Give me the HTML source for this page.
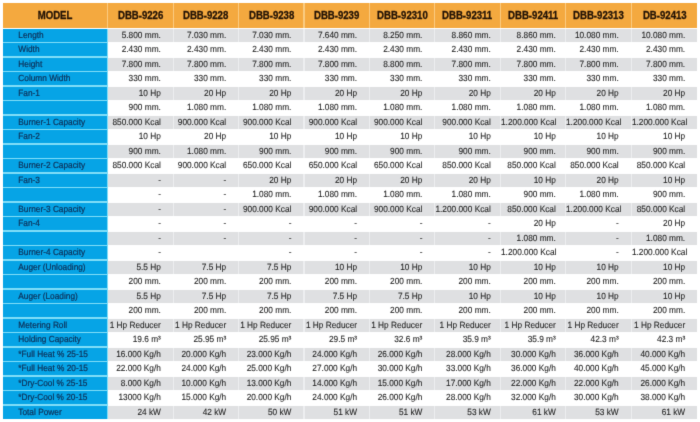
<!DOCTYPE html><html><head><meta charset="utf-8"><style>
html,body{margin:0;padding:0;background:#fff;width:700px;height:422px;overflow:hidden;position:relative}
div{position:absolute;box-sizing:border-box;white-space:nowrap;font-family:"Liberation Sans",sans-serif}
.h{background:#F4A93F;color:#241406;font-weight:bold;font-size:10.0px;text-align:center}
.h span{display:inline-block;transform:translateY(1.0px) scaleX(0.96);transform-origin:50% 50%}
.l{background:#06A4E6;color:#0E3159;font-size:8.3px;padding-left:15.3px}
.d{color:#262626;font-size:8.3px;text-align:right;padding-right:11.5px}
.l span,.d span{display:inline-block;transform:translateY(-0.5px) scaleY(1.08);text-rendering:geometricPrecision}
.g{background:#DFE0E2}
.h span{-webkit-text-stroke:0.3px currentColor}
.d span{-webkit-text-stroke:0.1px currentColor}
.l span{-webkit-text-stroke:0.2px currentColor}
#w{position:absolute;left:0;top:0;width:700px;height:422px;filter:url(#f)}
</style></head><body>
<svg width="0" height="0" style="position:absolute"><filter id="f" x="0" y="0" width="100%" height="100%" color-interpolation-filters="sRGB"><feConvolveMatrix order="3" kernelMatrix="0.0100 0.0800 0.0100 0.0800 0.6400 0.0800 0.0100 0.0800 0.0100" edgeMode="duplicate"/></filter></svg>
<div id="w">
<div style="left:3.00px;top:28.70px;width:105.00px;height:389.90px;background:#80DEF8"></div>
<div style="left:3.00px;top:3.00px;width:694.20px;height:24.50px;background:#FACB80"></div>
<div class="h" style="left:3.00px;top:3.00px;width:103.80px;height:24.50px;line-height:24.50px"><span>MODEL</span></div>
<div class="h" style="left:108.00px;top:3.00px;width:64.70px;height:24.50px;line-height:24.50px"><span>DBB-9226</span></div>
<div class="h" style="left:173.90px;top:3.00px;width:64.00px;height:24.50px;line-height:24.50px"><span>DBB-9228</span></div>
<div class="h" style="left:239.10px;top:3.00px;width:64.20px;height:24.50px;line-height:24.50px"><span>DBB-9238</span></div>
<div class="h" style="left:304.50px;top:3.00px;width:64.40px;height:24.50px;line-height:24.50px"><span>DBB-9239</span></div>
<div class="h" style="left:370.10px;top:3.00px;width:63.80px;height:24.50px;line-height:24.50px"><span>DBB-92310</span></div>
<div class="h" style="left:435.10px;top:3.00px;width:64.70px;height:24.50px;line-height:24.50px"><span>DBB-92311</span></div>
<div class="h" style="left:501.00px;top:3.00px;width:63.80px;height:24.50px;line-height:24.50px"><span>DBB-92411</span></div>
<div class="h" style="left:566.00px;top:3.00px;width:64.70px;height:24.50px;line-height:24.50px"><span>DBB-92313</span></div>
<div class="h" style="left:631.90px;top:3.00px;width:65.30px;height:24.50px;line-height:24.50px"><span>DB-92413</span></div>
<div class="l" style="left:3.00px;top:28.70px;width:103.80px;height:13.30px;line-height:13.30px"><span>Length</span></div>
<div style="left:108.00px;top:28.70px;width:589.20px;height:13.30px;background:#EDEEF0"></div>
<div class="d g" style="left:108.00px;top:28.70px;width:64.70px;height:13.30px;line-height:13.30px;padding-right:11.80px"><span>5.800 mm.</span></div>
<div class="d g" style="left:173.90px;top:28.70px;width:64.00px;height:13.30px;line-height:13.30px;padding-right:11.70px"><span>7.030 mm.</span></div>
<div class="d g" style="left:239.10px;top:28.70px;width:64.20px;height:13.30px;line-height:13.30px;padding-right:11.90px"><span>7.030 mm.</span></div>
<div class="d g" style="left:304.50px;top:28.70px;width:64.40px;height:13.30px;line-height:13.30px;padding-right:11.80px"><span>7.640 mm.</span></div>
<div class="d g" style="left:370.10px;top:28.70px;width:63.80px;height:13.30px;line-height:13.30px;padding-right:11.50px"><span>8.250 mm.</span></div>
<div class="d g" style="left:435.10px;top:28.70px;width:64.70px;height:13.30px;line-height:13.30px;padding-right:9.00px"><span>8.860 mm.</span></div>
<div class="d g" style="left:501.00px;top:28.70px;width:63.80px;height:13.30px;line-height:13.30px;padding-right:9.00px"><span>8.860 mm.</span></div>
<div class="d g" style="left:566.00px;top:28.70px;width:64.70px;height:13.30px;line-height:13.30px;padding-right:12.00px"><span>10.080 mm.</span></div>
<div class="d g" style="left:631.90px;top:28.70px;width:65.30px;height:13.30px;line-height:13.30px;padding-right:12.00px"><span>10.080 mm.</span></div>
<div class="l" style="left:3.00px;top:43.20px;width:103.80px;height:13.30px;line-height:13.30px"><span>Width</span></div>
<div class="d" style="left:108.00px;top:43.20px;width:64.70px;height:13.30px;line-height:13.30px;padding-right:11.80px"><span>2.430 mm.</span></div>
<div class="d" style="left:173.90px;top:43.20px;width:64.00px;height:13.30px;line-height:13.30px;padding-right:11.70px"><span>2.430 mm.</span></div>
<div class="d" style="left:239.10px;top:43.20px;width:64.20px;height:13.30px;line-height:13.30px;padding-right:11.90px"><span>2.430 mm.</span></div>
<div class="d" style="left:304.50px;top:43.20px;width:64.40px;height:13.30px;line-height:13.30px;padding-right:11.80px"><span>2.430 mm.</span></div>
<div class="d" style="left:370.10px;top:43.20px;width:63.80px;height:13.30px;line-height:13.30px;padding-right:11.50px"><span>2.430 mm.</span></div>
<div class="d" style="left:435.10px;top:43.20px;width:64.70px;height:13.30px;line-height:13.30px;padding-right:9.00px"><span>2.430 mm.</span></div>
<div class="d" style="left:501.00px;top:43.20px;width:63.80px;height:13.30px;line-height:13.30px;padding-right:9.00px"><span>2.430 mm.</span></div>
<div class="d" style="left:566.00px;top:43.20px;width:64.70px;height:13.30px;line-height:13.30px;padding-right:12.00px"><span>2.430 mm.</span></div>
<div class="d" style="left:631.90px;top:43.20px;width:65.30px;height:13.30px;line-height:13.30px;padding-right:12.00px"><span>2.430 mm.</span></div>
<div class="l" style="left:3.00px;top:57.70px;width:103.80px;height:13.30px;line-height:13.30px"><span>Height</span></div>
<div style="left:108.00px;top:57.70px;width:589.20px;height:13.30px;background:#EDEEF0"></div>
<div class="d g" style="left:108.00px;top:57.70px;width:64.70px;height:13.30px;line-height:13.30px;padding-right:11.80px"><span>7.800 mm.</span></div>
<div class="d g" style="left:173.90px;top:57.70px;width:64.00px;height:13.30px;line-height:13.30px;padding-right:11.70px"><span>7.800 mm.</span></div>
<div class="d g" style="left:239.10px;top:57.70px;width:64.20px;height:13.30px;line-height:13.30px;padding-right:11.90px"><span>7.800 mm.</span></div>
<div class="d g" style="left:304.50px;top:57.70px;width:64.40px;height:13.30px;line-height:13.30px;padding-right:11.80px"><span>7.800 mm.</span></div>
<div class="d g" style="left:370.10px;top:57.70px;width:63.80px;height:13.30px;line-height:13.30px;padding-right:11.50px"><span>8.800 mm.</span></div>
<div class="d g" style="left:435.10px;top:57.70px;width:64.70px;height:13.30px;line-height:13.30px;padding-right:9.00px"><span>7.800 mm.</span></div>
<div class="d g" style="left:501.00px;top:57.70px;width:63.80px;height:13.30px;line-height:13.30px;padding-right:9.00px"><span>7.800 mm.</span></div>
<div class="d g" style="left:566.00px;top:57.70px;width:64.70px;height:13.30px;line-height:13.30px;padding-right:12.00px"><span>7.800 mm.</span></div>
<div class="d g" style="left:631.90px;top:57.70px;width:65.30px;height:13.30px;line-height:13.30px;padding-right:12.00px"><span>7.800 mm.</span></div>
<div class="l" style="left:3.00px;top:72.20px;width:103.80px;height:13.30px;line-height:13.30px"><span>Column Width</span></div>
<div class="d" style="left:108.00px;top:72.20px;width:64.70px;height:13.30px;line-height:13.30px;padding-right:11.80px"><span>330 mm.</span></div>
<div class="d" style="left:173.90px;top:72.20px;width:64.00px;height:13.30px;line-height:13.30px;padding-right:11.70px"><span>330 mm.</span></div>
<div class="d" style="left:239.10px;top:72.20px;width:64.20px;height:13.30px;line-height:13.30px;padding-right:11.90px"><span>330 mm.</span></div>
<div class="d" style="left:304.50px;top:72.20px;width:64.40px;height:13.30px;line-height:13.30px;padding-right:11.80px"><span>330 mm.</span></div>
<div class="d" style="left:370.10px;top:72.20px;width:63.80px;height:13.30px;line-height:13.30px;padding-right:11.50px"><span>330 mm.</span></div>
<div class="d" style="left:435.10px;top:72.20px;width:64.70px;height:13.30px;line-height:13.30px;padding-right:9.00px"><span>330 mm.</span></div>
<div class="d" style="left:501.00px;top:72.20px;width:63.80px;height:13.30px;line-height:13.30px;padding-right:9.00px"><span>330 mm.</span></div>
<div class="d" style="left:566.00px;top:72.20px;width:64.70px;height:13.30px;line-height:13.30px;padding-right:12.00px"><span>330 mm.</span></div>
<div class="d" style="left:631.90px;top:72.20px;width:65.30px;height:13.30px;line-height:13.30px;padding-right:12.00px"><span>330 mm.</span></div>
<div class="l" style="left:3.00px;top:86.70px;width:103.80px;height:13.30px;line-height:13.30px"><span>Fan-1</span></div>
<div style="left:108.00px;top:86.70px;width:589.20px;height:13.30px;background:#EDEEF0"></div>
<div class="d g" style="left:108.00px;top:86.70px;width:64.70px;height:13.30px;line-height:13.30px;padding-right:11.80px"><span>10 Hp</span></div>
<div class="d g" style="left:173.90px;top:86.70px;width:64.00px;height:13.30px;line-height:13.30px;padding-right:11.70px"><span>20 Hp</span></div>
<div class="d g" style="left:239.10px;top:86.70px;width:64.20px;height:13.30px;line-height:13.30px;padding-right:11.90px"><span>20 Hp</span></div>
<div class="d g" style="left:304.50px;top:86.70px;width:64.40px;height:13.30px;line-height:13.30px;padding-right:11.80px"><span>20 Hp</span></div>
<div class="d g" style="left:370.10px;top:86.70px;width:63.80px;height:13.30px;line-height:13.30px;padding-right:11.50px"><span>20 Hp</span></div>
<div class="d g" style="left:435.10px;top:86.70px;width:64.70px;height:13.30px;line-height:13.30px;padding-right:9.00px"><span>20 Hp</span></div>
<div class="d g" style="left:501.00px;top:86.70px;width:63.80px;height:13.30px;line-height:13.30px;padding-right:9.00px"><span>20 Hp</span></div>
<div class="d g" style="left:566.00px;top:86.70px;width:64.70px;height:13.30px;line-height:13.30px;padding-right:12.00px"><span>20 Hp</span></div>
<div class="d g" style="left:631.90px;top:86.70px;width:65.30px;height:13.30px;line-height:13.30px;padding-right:12.00px"><span>20 Hp</span></div>
<div class="l" style="left:3.00px;top:101.20px;width:103.80px;height:13.30px;line-height:13.30px"><span></span></div>
<div class="d" style="left:108.00px;top:101.20px;width:64.70px;height:13.30px;line-height:13.30px;padding-right:11.80px"><span>900 mm.</span></div>
<div class="d" style="left:173.90px;top:101.20px;width:64.00px;height:13.30px;line-height:13.30px;padding-right:11.70px"><span>1.080 mm.</span></div>
<div class="d" style="left:239.10px;top:101.20px;width:64.20px;height:13.30px;line-height:13.30px;padding-right:11.90px"><span>1.080 mm.</span></div>
<div class="d" style="left:304.50px;top:101.20px;width:64.40px;height:13.30px;line-height:13.30px;padding-right:11.80px"><span>1.080 mm.</span></div>
<div class="d" style="left:370.10px;top:101.20px;width:63.80px;height:13.30px;line-height:13.30px;padding-right:11.50px"><span>1.080 mm.</span></div>
<div class="d" style="left:435.10px;top:101.20px;width:64.70px;height:13.30px;line-height:13.30px;padding-right:9.00px"><span>1.080 mm.</span></div>
<div class="d" style="left:501.00px;top:101.20px;width:63.80px;height:13.30px;line-height:13.30px;padding-right:9.00px"><span>1.080 mm.</span></div>
<div class="d" style="left:566.00px;top:101.20px;width:64.70px;height:13.30px;line-height:13.30px;padding-right:12.00px"><span>1.080 mm.</span></div>
<div class="d" style="left:631.90px;top:101.20px;width:65.30px;height:13.30px;line-height:13.30px;padding-right:12.00px"><span>1.080 mm.</span></div>
<div class="l" style="left:3.00px;top:115.70px;width:103.80px;height:13.30px;line-height:13.30px"><span>Burner-1 Capacity</span></div>
<div style="left:108.00px;top:115.70px;width:589.20px;height:13.30px;background:#EDEEF0"></div>
<div class="d g" style="left:108.00px;top:115.70px;width:64.70px;height:13.30px;line-height:13.30px;padding-right:11.80px"><span>850.000 Kcal</span></div>
<div class="d g" style="left:173.90px;top:115.70px;width:64.00px;height:13.30px;line-height:13.30px;padding-right:11.70px"><span>900.000 Kcal</span></div>
<div class="d g" style="left:239.10px;top:115.70px;width:64.20px;height:13.30px;line-height:13.30px;padding-right:11.90px"><span>900.000 Kcal</span></div>
<div class="d g" style="left:304.50px;top:115.70px;width:64.40px;height:13.30px;line-height:13.30px;padding-right:11.80px"><span>900.000 Kcal</span></div>
<div class="d g" style="left:370.10px;top:115.70px;width:63.80px;height:13.30px;line-height:13.30px;padding-right:11.50px"><span>900.000 Kcal</span></div>
<div class="d g" style="left:435.10px;top:115.70px;width:64.70px;height:13.30px;line-height:13.30px;padding-right:9.00px"><span>900.000 Kcal</span></div>
<div class="d g" style="left:501.00px;top:115.70px;width:63.80px;height:13.30px;line-height:13.30px;padding-right:9.00px"><span>1.200.000 Kcal</span></div>
<div class="d g" style="left:566.00px;top:115.70px;width:64.70px;height:13.30px;line-height:13.30px;padding-right:12.00px"><span>1.200.000 Kcal</span></div>
<div class="d g" style="left:631.90px;top:115.70px;width:65.30px;height:13.30px;line-height:13.30px;padding-right:12.00px"><span>1.200.000 Kcal</span></div>
<div class="l" style="left:3.00px;top:130.20px;width:103.80px;height:13.30px;line-height:13.30px"><span>Fan-2</span></div>
<div class="d" style="left:108.00px;top:130.20px;width:64.70px;height:13.30px;line-height:13.30px;padding-right:11.80px"><span>10 Hp</span></div>
<div class="d" style="left:173.90px;top:130.20px;width:64.00px;height:13.30px;line-height:13.30px;padding-right:11.70px"><span>20 Hp</span></div>
<div class="d" style="left:239.10px;top:130.20px;width:64.20px;height:13.30px;line-height:13.30px;padding-right:11.90px"><span>10 Hp</span></div>
<div class="d" style="left:304.50px;top:130.20px;width:64.40px;height:13.30px;line-height:13.30px;padding-right:11.80px"><span>10 Hp</span></div>
<div class="d" style="left:370.10px;top:130.20px;width:63.80px;height:13.30px;line-height:13.30px;padding-right:11.50px"><span>10 Hp</span></div>
<div class="d" style="left:435.10px;top:130.20px;width:64.70px;height:13.30px;line-height:13.30px;padding-right:9.00px"><span>10 Hp</span></div>
<div class="d" style="left:501.00px;top:130.20px;width:63.80px;height:13.30px;line-height:13.30px;padding-right:9.00px"><span>10 Hp</span></div>
<div class="d" style="left:566.00px;top:130.20px;width:64.70px;height:13.30px;line-height:13.30px;padding-right:12.00px"><span>10 Hp</span></div>
<div class="d" style="left:631.90px;top:130.20px;width:65.30px;height:13.30px;line-height:13.30px;padding-right:12.00px"><span>10 Hp</span></div>
<div class="l" style="left:3.00px;top:144.70px;width:103.80px;height:13.30px;line-height:13.30px"><span></span></div>
<div style="left:108.00px;top:144.70px;width:589.20px;height:13.30px;background:#EDEEF0"></div>
<div class="d g" style="left:108.00px;top:144.70px;width:64.70px;height:13.30px;line-height:13.30px;padding-right:11.80px"><span>900 mm.</span></div>
<div class="d g" style="left:173.90px;top:144.70px;width:64.00px;height:13.30px;line-height:13.30px;padding-right:11.70px"><span>1.080 mm.</span></div>
<div class="d g" style="left:239.10px;top:144.70px;width:64.20px;height:13.30px;line-height:13.30px;padding-right:11.90px"><span>900 mm.</span></div>
<div class="d g" style="left:304.50px;top:144.70px;width:64.40px;height:13.30px;line-height:13.30px;padding-right:11.80px"><span>900 mm.</span></div>
<div class="d g" style="left:370.10px;top:144.70px;width:63.80px;height:13.30px;line-height:13.30px;padding-right:11.50px"><span>900 mm.</span></div>
<div class="d g" style="left:435.10px;top:144.70px;width:64.70px;height:13.30px;line-height:13.30px;padding-right:9.00px"><span>900 mm.</span></div>
<div class="d g" style="left:501.00px;top:144.70px;width:63.80px;height:13.30px;line-height:13.30px;padding-right:9.00px"><span>900 mm.</span></div>
<div class="d g" style="left:566.00px;top:144.70px;width:64.70px;height:13.30px;line-height:13.30px;padding-right:12.00px"><span>900 mm.</span></div>
<div class="d g" style="left:631.90px;top:144.70px;width:65.30px;height:13.30px;line-height:13.30px;padding-right:12.00px"><span>900 mm.</span></div>
<div class="l" style="left:3.00px;top:159.20px;width:103.80px;height:13.30px;line-height:13.30px"><span>Burner-2 Capacity</span></div>
<div class="d" style="left:108.00px;top:159.20px;width:64.70px;height:13.30px;line-height:13.30px;padding-right:11.80px"><span>850.000 Kcal</span></div>
<div class="d" style="left:173.90px;top:159.20px;width:64.00px;height:13.30px;line-height:13.30px;padding-right:11.70px"><span>900.000 Kcal</span></div>
<div class="d" style="left:239.10px;top:159.20px;width:64.20px;height:13.30px;line-height:13.30px;padding-right:11.90px"><span>650.000 Kcal</span></div>
<div class="d" style="left:304.50px;top:159.20px;width:64.40px;height:13.30px;line-height:13.30px;padding-right:11.80px"><span>650.000 Kcal</span></div>
<div class="d" style="left:370.10px;top:159.20px;width:63.80px;height:13.30px;line-height:13.30px;padding-right:11.50px"><span>650.000 Kcal</span></div>
<div class="d" style="left:435.10px;top:159.20px;width:64.70px;height:13.30px;line-height:13.30px;padding-right:9.00px"><span>850.000 Kcal</span></div>
<div class="d" style="left:501.00px;top:159.20px;width:63.80px;height:13.30px;line-height:13.30px;padding-right:9.00px"><span>850.000 Kcal</span></div>
<div class="d" style="left:566.00px;top:159.20px;width:64.70px;height:13.30px;line-height:13.30px;padding-right:12.00px"><span>850.000 Kcal</span></div>
<div class="d" style="left:631.90px;top:159.20px;width:65.30px;height:13.30px;line-height:13.30px;padding-right:12.00px"><span>850.000 Kcal</span></div>
<div class="l" style="left:3.00px;top:173.70px;width:103.80px;height:13.30px;line-height:13.30px"><span>Fan-3</span></div>
<div style="left:108.00px;top:173.70px;width:589.20px;height:13.30px;background:#EDEEF0"></div>
<div class="d g" style="left:108.00px;top:173.70px;width:64.70px;height:13.30px;line-height:13.30px;padding-right:11.80px"><span>-</span></div>
<div class="d g" style="left:173.90px;top:173.70px;width:64.00px;height:13.30px;line-height:13.30px;padding-right:11.70px"><span>-</span></div>
<div class="d g" style="left:239.10px;top:173.70px;width:64.20px;height:13.30px;line-height:13.30px;padding-right:11.90px"><span>20 Hp</span></div>
<div class="d g" style="left:304.50px;top:173.70px;width:64.40px;height:13.30px;line-height:13.30px;padding-right:11.80px"><span>20 Hp</span></div>
<div class="d g" style="left:370.10px;top:173.70px;width:63.80px;height:13.30px;line-height:13.30px;padding-right:11.50px"><span>20 Hp</span></div>
<div class="d g" style="left:435.10px;top:173.70px;width:64.70px;height:13.30px;line-height:13.30px;padding-right:9.00px"><span>20 Hp</span></div>
<div class="d g" style="left:501.00px;top:173.70px;width:63.80px;height:13.30px;line-height:13.30px;padding-right:9.00px"><span>10 Hp</span></div>
<div class="d g" style="left:566.00px;top:173.70px;width:64.70px;height:13.30px;line-height:13.30px;padding-right:12.00px"><span>20 Hp</span></div>
<div class="d g" style="left:631.90px;top:173.70px;width:65.30px;height:13.30px;line-height:13.30px;padding-right:12.00px"><span>10 Hp</span></div>
<div class="l" style="left:3.00px;top:188.20px;width:103.80px;height:13.30px;line-height:13.30px"><span></span></div>
<div class="d" style="left:108.00px;top:188.20px;width:64.70px;height:13.30px;line-height:13.30px;padding-right:11.80px"><span>-</span></div>
<div class="d" style="left:173.90px;top:188.20px;width:64.00px;height:13.30px;line-height:13.30px;padding-right:11.70px"><span>-</span></div>
<div class="d" style="left:239.10px;top:188.20px;width:64.20px;height:13.30px;line-height:13.30px;padding-right:11.90px"><span>1.080 mm.</span></div>
<div class="d" style="left:304.50px;top:188.20px;width:64.40px;height:13.30px;line-height:13.30px;padding-right:11.80px"><span>1.080 mm.</span></div>
<div class="d" style="left:370.10px;top:188.20px;width:63.80px;height:13.30px;line-height:13.30px;padding-right:11.50px"><span>1.080 mm.</span></div>
<div class="d" style="left:435.10px;top:188.20px;width:64.70px;height:13.30px;line-height:13.30px;padding-right:9.00px"><span>1.080 mm.</span></div>
<div class="d" style="left:501.00px;top:188.20px;width:63.80px;height:13.30px;line-height:13.30px;padding-right:9.00px"><span>900 mm.</span></div>
<div class="d" style="left:566.00px;top:188.20px;width:64.70px;height:13.30px;line-height:13.30px;padding-right:12.00px"><span>1.080 mm.</span></div>
<div class="d" style="left:631.90px;top:188.20px;width:65.30px;height:13.30px;line-height:13.30px;padding-right:12.00px"><span>900 mm.</span></div>
<div class="l" style="left:3.00px;top:202.70px;width:103.80px;height:13.30px;line-height:13.30px"><span>Burner-3 Capacity</span></div>
<div style="left:108.00px;top:202.70px;width:589.20px;height:13.30px;background:#EDEEF0"></div>
<div class="d g" style="left:108.00px;top:202.70px;width:64.70px;height:13.30px;line-height:13.30px;padding-right:11.80px"><span>-</span></div>
<div class="d g" style="left:173.90px;top:202.70px;width:64.00px;height:13.30px;line-height:13.30px;padding-right:11.70px"><span>-</span></div>
<div class="d g" style="left:239.10px;top:202.70px;width:64.20px;height:13.30px;line-height:13.30px;padding-right:11.90px"><span>900.000 Kcal</span></div>
<div class="d g" style="left:304.50px;top:202.70px;width:64.40px;height:13.30px;line-height:13.30px;padding-right:11.80px"><span>900.000 Kcal</span></div>
<div class="d g" style="left:370.10px;top:202.70px;width:63.80px;height:13.30px;line-height:13.30px;padding-right:11.50px"><span>900.000 Kcal</span></div>
<div class="d g" style="left:435.10px;top:202.70px;width:64.70px;height:13.30px;line-height:13.30px;padding-right:9.00px"><span>1.200.000 Kcal</span></div>
<div class="d g" style="left:501.00px;top:202.70px;width:63.80px;height:13.30px;line-height:13.30px;padding-right:9.00px"><span>850.000 Kcal</span></div>
<div class="d g" style="left:566.00px;top:202.70px;width:64.70px;height:13.30px;line-height:13.30px;padding-right:12.00px"><span>1.200.000 Kcal</span></div>
<div class="d g" style="left:631.90px;top:202.70px;width:65.30px;height:13.30px;line-height:13.30px;padding-right:12.00px"><span>850.000 Kcal</span></div>
<div class="l" style="left:3.00px;top:217.20px;width:103.80px;height:13.30px;line-height:13.30px"><span>Fan-4</span></div>
<div class="d" style="left:108.00px;top:217.20px;width:64.70px;height:13.30px;line-height:13.30px;padding-right:11.80px"><span>-</span></div>
<div class="d" style="left:173.90px;top:217.20px;width:64.00px;height:13.30px;line-height:13.30px;padding-right:11.70px"><span>-</span></div>
<div class="d" style="left:239.10px;top:217.20px;width:64.20px;height:13.30px;line-height:13.30px;padding-right:11.90px"><span>-</span></div>
<div class="d" style="left:304.50px;top:217.20px;width:64.40px;height:13.30px;line-height:13.30px;padding-right:11.80px"><span>-</span></div>
<div class="d" style="left:370.10px;top:217.20px;width:63.80px;height:13.30px;line-height:13.30px;padding-right:11.50px"><span>-</span></div>
<div class="d" style="left:435.10px;top:217.20px;width:64.70px;height:13.30px;line-height:13.30px;padding-right:9.00px"><span>-</span></div>
<div class="d" style="left:501.00px;top:217.20px;width:63.80px;height:13.30px;line-height:13.30px;padding-right:9.00px"><span>20 Hp</span></div>
<div class="d" style="left:566.00px;top:217.20px;width:64.70px;height:13.30px;line-height:13.30px;padding-right:12.00px"><span>-</span></div>
<div class="d" style="left:631.90px;top:217.20px;width:65.30px;height:13.30px;line-height:13.30px;padding-right:12.00px"><span>20 Hp</span></div>
<div class="l" style="left:3.00px;top:231.70px;width:103.80px;height:13.30px;line-height:13.30px"><span></span></div>
<div style="left:108.00px;top:231.70px;width:589.20px;height:13.30px;background:#EDEEF0"></div>
<div class="d g" style="left:108.00px;top:231.70px;width:64.70px;height:13.30px;line-height:13.30px;padding-right:11.80px"><span>-</span></div>
<div class="d g" style="left:173.90px;top:231.70px;width:64.00px;height:13.30px;line-height:13.30px;padding-right:11.70px"><span>-</span></div>
<div class="d g" style="left:239.10px;top:231.70px;width:64.20px;height:13.30px;line-height:13.30px;padding-right:11.90px"><span>-</span></div>
<div class="d g" style="left:304.50px;top:231.70px;width:64.40px;height:13.30px;line-height:13.30px;padding-right:11.80px"><span>-</span></div>
<div class="d g" style="left:370.10px;top:231.70px;width:63.80px;height:13.30px;line-height:13.30px;padding-right:11.50px"><span>-</span></div>
<div class="d g" style="left:435.10px;top:231.70px;width:64.70px;height:13.30px;line-height:13.30px;padding-right:9.00px"><span>-</span></div>
<div class="d g" style="left:501.00px;top:231.70px;width:63.80px;height:13.30px;line-height:13.30px;padding-right:9.00px"><span>1.080 mm.</span></div>
<div class="d g" style="left:566.00px;top:231.70px;width:64.70px;height:13.30px;line-height:13.30px;padding-right:12.00px"><span>-</span></div>
<div class="d g" style="left:631.90px;top:231.70px;width:65.30px;height:13.30px;line-height:13.30px;padding-right:12.00px"><span>1.080 mm.</span></div>
<div class="l" style="left:3.00px;top:246.20px;width:103.80px;height:13.30px;line-height:13.30px"><span>Burner-4 Capacity</span></div>
<div class="d" style="left:108.00px;top:246.20px;width:64.70px;height:13.30px;line-height:13.30px;padding-right:11.80px"><span>-</span></div>
<div class="d" style="left:173.90px;top:246.20px;width:64.00px;height:13.30px;line-height:13.30px;padding-right:11.70px"><span></span></div>
<div class="d" style="left:239.10px;top:246.20px;width:64.20px;height:13.30px;line-height:13.30px;padding-right:11.90px"><span>-</span></div>
<div class="d" style="left:304.50px;top:246.20px;width:64.40px;height:13.30px;line-height:13.30px;padding-right:11.80px"><span>-</span></div>
<div class="d" style="left:370.10px;top:246.20px;width:63.80px;height:13.30px;line-height:13.30px;padding-right:11.50px"><span>-</span></div>
<div class="d" style="left:435.10px;top:246.20px;width:64.70px;height:13.30px;line-height:13.30px;padding-right:9.00px"><span>-</span></div>
<div class="d" style="left:501.00px;top:246.20px;width:63.80px;height:13.30px;line-height:13.30px;padding-right:9.00px"><span>1.200.000 Kcal</span></div>
<div class="d" style="left:566.00px;top:246.20px;width:64.70px;height:13.30px;line-height:13.30px;padding-right:12.00px"><span>-</span></div>
<div class="d" style="left:631.90px;top:246.20px;width:65.30px;height:13.30px;line-height:13.30px;padding-right:12.00px"><span>1.200.000 Kcal</span></div>
<div class="l" style="left:3.00px;top:260.70px;width:103.80px;height:13.30px;line-height:13.30px"><span>Auger (Unloading)</span></div>
<div style="left:108.00px;top:260.70px;width:589.20px;height:13.30px;background:#EDEEF0"></div>
<div class="d g" style="left:108.00px;top:260.70px;width:64.70px;height:13.30px;line-height:13.30px;padding-right:11.80px"><span>5.5 Hp</span></div>
<div class="d g" style="left:173.90px;top:260.70px;width:64.00px;height:13.30px;line-height:13.30px;padding-right:11.70px"><span>7.5 Hp</span></div>
<div class="d g" style="left:239.10px;top:260.70px;width:64.20px;height:13.30px;line-height:13.30px;padding-right:11.90px"><span>7.5 Hp</span></div>
<div class="d g" style="left:304.50px;top:260.70px;width:64.40px;height:13.30px;line-height:13.30px;padding-right:11.80px"><span>10 Hp</span></div>
<div class="d g" style="left:370.10px;top:260.70px;width:63.80px;height:13.30px;line-height:13.30px;padding-right:11.50px"><span>10 Hp</span></div>
<div class="d g" style="left:435.10px;top:260.70px;width:64.70px;height:13.30px;line-height:13.30px;padding-right:9.00px"><span>10 Hp</span></div>
<div class="d g" style="left:501.00px;top:260.70px;width:63.80px;height:13.30px;line-height:13.30px;padding-right:9.00px"><span>10 Hp</span></div>
<div class="d g" style="left:566.00px;top:260.70px;width:64.70px;height:13.30px;line-height:13.30px;padding-right:12.00px"><span>10 Hp</span></div>
<div class="d g" style="left:631.90px;top:260.70px;width:65.30px;height:13.30px;line-height:13.30px;padding-right:12.00px"><span>10 Hp</span></div>
<div class="l" style="left:3.00px;top:275.20px;width:103.80px;height:13.30px;line-height:13.30px"><span></span></div>
<div class="d" style="left:108.00px;top:275.20px;width:64.70px;height:13.30px;line-height:13.30px;padding-right:11.80px"><span>200 mm.</span></div>
<div class="d" style="left:173.90px;top:275.20px;width:64.00px;height:13.30px;line-height:13.30px;padding-right:11.70px"><span>200 mm.</span></div>
<div class="d" style="left:239.10px;top:275.20px;width:64.20px;height:13.30px;line-height:13.30px;padding-right:11.90px"><span>200 mm.</span></div>
<div class="d" style="left:304.50px;top:275.20px;width:64.40px;height:13.30px;line-height:13.30px;padding-right:11.80px"><span>200 mm.</span></div>
<div class="d" style="left:370.10px;top:275.20px;width:63.80px;height:13.30px;line-height:13.30px;padding-right:11.50px"><span>200 mm.</span></div>
<div class="d" style="left:435.10px;top:275.20px;width:64.70px;height:13.30px;line-height:13.30px;padding-right:9.00px"><span>200 mm.</span></div>
<div class="d" style="left:501.00px;top:275.20px;width:63.80px;height:13.30px;line-height:13.30px;padding-right:9.00px"><span>200 mm.</span></div>
<div class="d" style="left:566.00px;top:275.20px;width:64.70px;height:13.30px;line-height:13.30px;padding-right:12.00px"><span>200 mm.</span></div>
<div class="d" style="left:631.90px;top:275.20px;width:65.30px;height:13.30px;line-height:13.30px;padding-right:12.00px"><span>200 mm.</span></div>
<div class="l" style="left:3.00px;top:289.70px;width:103.80px;height:13.30px;line-height:13.30px"><span>Auger (Loading)</span></div>
<div style="left:108.00px;top:289.70px;width:589.20px;height:13.30px;background:#EDEEF0"></div>
<div class="d g" style="left:108.00px;top:289.70px;width:64.70px;height:13.30px;line-height:13.30px;padding-right:11.80px"><span>5.5 Hp</span></div>
<div class="d g" style="left:173.90px;top:289.70px;width:64.00px;height:13.30px;line-height:13.30px;padding-right:11.70px"><span>7.5 Hp</span></div>
<div class="d g" style="left:239.10px;top:289.70px;width:64.20px;height:13.30px;line-height:13.30px;padding-right:11.90px"><span>7.5 Hp</span></div>
<div class="d g" style="left:304.50px;top:289.70px;width:64.40px;height:13.30px;line-height:13.30px;padding-right:11.80px"><span>7.5 Hp</span></div>
<div class="d g" style="left:370.10px;top:289.70px;width:63.80px;height:13.30px;line-height:13.30px;padding-right:11.50px"><span>7.5 Hp</span></div>
<div class="d g" style="left:435.10px;top:289.70px;width:64.70px;height:13.30px;line-height:13.30px;padding-right:9.00px"><span>10 Hp</span></div>
<div class="d g" style="left:501.00px;top:289.70px;width:63.80px;height:13.30px;line-height:13.30px;padding-right:9.00px"><span>10 Hp</span></div>
<div class="d g" style="left:566.00px;top:289.70px;width:64.70px;height:13.30px;line-height:13.30px;padding-right:12.00px"><span>10 Hp</span></div>
<div class="d g" style="left:631.90px;top:289.70px;width:65.30px;height:13.30px;line-height:13.30px;padding-right:12.00px"><span>10 Hp</span></div>
<div class="l" style="left:3.00px;top:304.20px;width:103.80px;height:13.30px;line-height:13.30px"><span></span></div>
<div class="d" style="left:108.00px;top:304.20px;width:64.70px;height:13.30px;line-height:13.30px;padding-right:11.80px"><span>200 mm.</span></div>
<div class="d" style="left:173.90px;top:304.20px;width:64.00px;height:13.30px;line-height:13.30px;padding-right:11.70px"><span>200 mm.</span></div>
<div class="d" style="left:239.10px;top:304.20px;width:64.20px;height:13.30px;line-height:13.30px;padding-right:11.90px"><span>200 mm.</span></div>
<div class="d" style="left:304.50px;top:304.20px;width:64.40px;height:13.30px;line-height:13.30px;padding-right:11.80px"><span>200 mm.</span></div>
<div class="d" style="left:370.10px;top:304.20px;width:63.80px;height:13.30px;line-height:13.30px;padding-right:11.50px"><span>200 mm.</span></div>
<div class="d" style="left:435.10px;top:304.20px;width:64.70px;height:13.30px;line-height:13.30px;padding-right:9.00px"><span>200 mm.</span></div>
<div class="d" style="left:501.00px;top:304.20px;width:63.80px;height:13.30px;line-height:13.30px;padding-right:9.00px"><span>200 mm.</span></div>
<div class="d" style="left:566.00px;top:304.20px;width:64.70px;height:13.30px;line-height:13.30px;padding-right:12.00px"><span>200 mm.</span></div>
<div class="d" style="left:631.90px;top:304.20px;width:65.30px;height:13.30px;line-height:13.30px;padding-right:12.00px"><span>200 mm.</span></div>
<div class="l" style="left:3.00px;top:318.70px;width:103.80px;height:13.30px;line-height:13.30px"><span>Metering Roll</span></div>
<div style="left:108.00px;top:318.70px;width:589.20px;height:13.30px;background:#EDEEF0"></div>
<div class="d g" style="left:108.00px;top:318.70px;width:64.70px;height:13.30px;line-height:13.30px;padding-right:11.80px"><span>1 Hp Reducer</span></div>
<div class="d g" style="left:173.90px;top:318.70px;width:64.00px;height:13.30px;line-height:13.30px;padding-right:11.70px"><span>1 Hp Reducer</span></div>
<div class="d g" style="left:239.10px;top:318.70px;width:64.20px;height:13.30px;line-height:13.30px;padding-right:11.90px"><span>1 Hp Reducer</span></div>
<div class="d g" style="left:304.50px;top:318.70px;width:64.40px;height:13.30px;line-height:13.30px;padding-right:11.80px"><span>1 Hp Reducer</span></div>
<div class="d g" style="left:370.10px;top:318.70px;width:63.80px;height:13.30px;line-height:13.30px;padding-right:11.50px"><span>1 Hp Reducer</span></div>
<div class="d g" style="left:435.10px;top:318.70px;width:64.70px;height:13.30px;line-height:13.30px;padding-right:9.00px"><span>1 Hp Reducer</span></div>
<div class="d g" style="left:501.00px;top:318.70px;width:63.80px;height:13.30px;line-height:13.30px;padding-right:9.00px"><span>1 Hp Reducer</span></div>
<div class="d g" style="left:566.00px;top:318.70px;width:64.70px;height:13.30px;line-height:13.30px;padding-right:12.00px"><span>1 Hp Reducer</span></div>
<div class="d g" style="left:631.90px;top:318.70px;width:65.30px;height:13.30px;line-height:13.30px;padding-right:12.00px"><span>1 Hp Reducer</span></div>
<div class="l" style="left:3.00px;top:333.20px;width:103.80px;height:13.30px;line-height:13.30px"><span>Holding Capacity</span></div>
<div class="d" style="left:108.00px;top:333.20px;width:64.70px;height:13.30px;line-height:13.30px;padding-right:11.80px"><span>19.6 m³</span></div>
<div class="d" style="left:173.90px;top:333.20px;width:64.00px;height:13.30px;line-height:13.30px;padding-right:11.70px"><span>25.95 m³</span></div>
<div class="d" style="left:239.10px;top:333.20px;width:64.20px;height:13.30px;line-height:13.30px;padding-right:11.90px"><span>25.95 m³</span></div>
<div class="d" style="left:304.50px;top:333.20px;width:64.40px;height:13.30px;line-height:13.30px;padding-right:11.80px"><span>29.5 m³</span></div>
<div class="d" style="left:370.10px;top:333.20px;width:63.80px;height:13.30px;line-height:13.30px;padding-right:11.50px"><span>32.6 m³</span></div>
<div class="d" style="left:435.10px;top:333.20px;width:64.70px;height:13.30px;line-height:13.30px;padding-right:9.00px"><span>35.9 m³</span></div>
<div class="d" style="left:501.00px;top:333.20px;width:63.80px;height:13.30px;line-height:13.30px;padding-right:9.00px"><span>35.9 m³</span></div>
<div class="d" style="left:566.00px;top:333.20px;width:64.70px;height:13.30px;line-height:13.30px;padding-right:12.00px"><span>42.3 m³</span></div>
<div class="d" style="left:631.90px;top:333.20px;width:65.30px;height:13.30px;line-height:13.30px;padding-right:12.00px"><span>42.3 m³</span></div>
<div class="l" style="left:3.00px;top:347.70px;width:103.80px;height:13.30px;line-height:13.30px"><span>*Full Heat % 25-15</span></div>
<div style="left:108.00px;top:347.70px;width:589.20px;height:13.30px;background:#EDEEF0"></div>
<div class="d g" style="left:108.00px;top:347.70px;width:64.70px;height:13.30px;line-height:13.30px;padding-right:11.80px"><span>16.000 Kg/h</span></div>
<div class="d g" style="left:173.90px;top:347.70px;width:64.00px;height:13.30px;line-height:13.30px;padding-right:11.70px"><span>20.000 Kg/h</span></div>
<div class="d g" style="left:239.10px;top:347.70px;width:64.20px;height:13.30px;line-height:13.30px;padding-right:11.90px"><span>23.000 Kg/h</span></div>
<div class="d g" style="left:304.50px;top:347.70px;width:64.40px;height:13.30px;line-height:13.30px;padding-right:11.80px"><span>24.000 Kg/h</span></div>
<div class="d g" style="left:370.10px;top:347.70px;width:63.80px;height:13.30px;line-height:13.30px;padding-right:11.50px"><span>26.000 Kg/h</span></div>
<div class="d g" style="left:435.10px;top:347.70px;width:64.70px;height:13.30px;line-height:13.30px;padding-right:9.00px"><span>28.000 Kg/h</span></div>
<div class="d g" style="left:501.00px;top:347.70px;width:63.80px;height:13.30px;line-height:13.30px;padding-right:9.00px"><span>30.000 Kg/h</span></div>
<div class="d g" style="left:566.00px;top:347.70px;width:64.70px;height:13.30px;line-height:13.30px;padding-right:12.00px"><span>36.000 Kg/h</span></div>
<div class="d g" style="left:631.90px;top:347.70px;width:65.30px;height:13.30px;line-height:13.30px;padding-right:12.00px"><span>40.000 Kg/h</span></div>
<div class="l" style="left:3.00px;top:362.20px;width:103.80px;height:13.30px;line-height:13.30px"><span>*Full Heat % 20-15</span></div>
<div class="d" style="left:108.00px;top:362.20px;width:64.70px;height:13.30px;line-height:13.30px;padding-right:11.80px"><span>22.000 Kg/h</span></div>
<div class="d" style="left:173.90px;top:362.20px;width:64.00px;height:13.30px;line-height:13.30px;padding-right:11.70px"><span>24.000 Kg/h</span></div>
<div class="d" style="left:239.10px;top:362.20px;width:64.20px;height:13.30px;line-height:13.30px;padding-right:11.90px"><span>25.000 Kg/h</span></div>
<div class="d" style="left:304.50px;top:362.20px;width:64.40px;height:13.30px;line-height:13.30px;padding-right:11.80px"><span>27.000 Kg/h</span></div>
<div class="d" style="left:370.10px;top:362.20px;width:63.80px;height:13.30px;line-height:13.30px;padding-right:11.50px"><span>30.000 Kg/h</span></div>
<div class="d" style="left:435.10px;top:362.20px;width:64.70px;height:13.30px;line-height:13.30px;padding-right:9.00px"><span>33.000 Kg/h</span></div>
<div class="d" style="left:501.00px;top:362.20px;width:63.80px;height:13.30px;line-height:13.30px;padding-right:9.00px"><span>36.000 Kg/h</span></div>
<div class="d" style="left:566.00px;top:362.20px;width:64.70px;height:13.30px;line-height:13.30px;padding-right:12.00px"><span>40.000 Kg/h</span></div>
<div class="d" style="left:631.90px;top:362.20px;width:65.30px;height:13.30px;line-height:13.30px;padding-right:12.00px"><span>45.000 Kg/h</span></div>
<div class="l" style="left:3.00px;top:376.70px;width:103.80px;height:13.30px;line-height:13.30px"><span>*Dry-Cool % 25-15</span></div>
<div style="left:108.00px;top:376.70px;width:589.20px;height:13.30px;background:#EDEEF0"></div>
<div class="d g" style="left:108.00px;top:376.70px;width:64.70px;height:13.30px;line-height:13.30px;padding-right:11.80px"><span>8.000 Kg/h</span></div>
<div class="d g" style="left:173.90px;top:376.70px;width:64.00px;height:13.30px;line-height:13.30px;padding-right:11.70px"><span>10.000 Kg/h</span></div>
<div class="d g" style="left:239.10px;top:376.70px;width:64.20px;height:13.30px;line-height:13.30px;padding-right:11.90px"><span>13.000 Kg/h</span></div>
<div class="d g" style="left:304.50px;top:376.70px;width:64.40px;height:13.30px;line-height:13.30px;padding-right:11.80px"><span>14.000 Kg/h</span></div>
<div class="d g" style="left:370.10px;top:376.70px;width:63.80px;height:13.30px;line-height:13.30px;padding-right:11.50px"><span>15.000 Kg/h</span></div>
<div class="d g" style="left:435.10px;top:376.70px;width:64.70px;height:13.30px;line-height:13.30px;padding-right:9.00px"><span>17.000 Kg/h</span></div>
<div class="d g" style="left:501.00px;top:376.70px;width:63.80px;height:13.30px;line-height:13.30px;padding-right:9.00px"><span>22.000 Kg/h</span></div>
<div class="d g" style="left:566.00px;top:376.70px;width:64.70px;height:13.30px;line-height:13.30px;padding-right:12.00px"><span>22.000 Kg/h</span></div>
<div class="d g" style="left:631.90px;top:376.70px;width:65.30px;height:13.30px;line-height:13.30px;padding-right:12.00px"><span>26.000 Kg/h</span></div>
<div class="l" style="left:3.00px;top:391.20px;width:103.80px;height:13.30px;line-height:13.30px"><span>*Dry-Cool % 20-15</span></div>
<div class="d" style="left:108.00px;top:391.20px;width:64.70px;height:13.30px;line-height:13.30px;padding-right:11.80px"><span>13000 Kg/h</span></div>
<div class="d" style="left:173.90px;top:391.20px;width:64.00px;height:13.30px;line-height:13.30px;padding-right:11.70px"><span>15.000 Kg/h</span></div>
<div class="d" style="left:239.10px;top:391.20px;width:64.20px;height:13.30px;line-height:13.30px;padding-right:11.90px"><span>20.000 Kg/h</span></div>
<div class="d" style="left:304.50px;top:391.20px;width:64.40px;height:13.30px;line-height:13.30px;padding-right:11.80px"><span>24.000 Kg/h</span></div>
<div class="d" style="left:370.10px;top:391.20px;width:63.80px;height:13.30px;line-height:13.30px;padding-right:11.50px"><span>26.000 Kg/h</span></div>
<div class="d" style="left:435.10px;top:391.20px;width:64.70px;height:13.30px;line-height:13.30px;padding-right:9.00px"><span>28.000 Kg/h</span></div>
<div class="d" style="left:501.00px;top:391.20px;width:63.80px;height:13.30px;line-height:13.30px;padding-right:9.00px"><span>32.000 Kg/h</span></div>
<div class="d" style="left:566.00px;top:391.20px;width:64.70px;height:13.30px;line-height:13.30px;padding-right:12.00px"><span>30.000 Kg/h</span></div>
<div class="d" style="left:631.90px;top:391.20px;width:65.30px;height:13.30px;line-height:13.30px;padding-right:12.00px"><span>38.000 Kg/h</span></div>
<div class="l" style="left:3.00px;top:405.70px;width:103.80px;height:12.90px;line-height:12.90px"><span>Total Power</span></div>
<div style="left:108.00px;top:405.70px;width:589.20px;height:12.90px;background:#EDEEF0"></div>
<div class="d g" style="left:108.00px;top:405.70px;width:64.70px;height:12.90px;line-height:12.90px;padding-right:11.80px"><span>24 kW</span></div>
<div class="d g" style="left:173.90px;top:405.70px;width:64.00px;height:12.90px;line-height:12.90px;padding-right:11.70px"><span>42 kW</span></div>
<div class="d g" style="left:239.10px;top:405.70px;width:64.20px;height:12.90px;line-height:12.90px;padding-right:11.90px"><span>50 kW</span></div>
<div class="d g" style="left:304.50px;top:405.70px;width:64.40px;height:12.90px;line-height:12.90px;padding-right:11.80px"><span>51 kW</span></div>
<div class="d g" style="left:370.10px;top:405.70px;width:63.80px;height:12.90px;line-height:12.90px;padding-right:11.50px"><span>51 kW</span></div>
<div class="d g" style="left:435.10px;top:405.70px;width:64.70px;height:12.90px;line-height:12.90px;padding-right:9.00px"><span>53 kW</span></div>
<div class="d g" style="left:501.00px;top:405.70px;width:63.80px;height:12.90px;line-height:12.90px;padding-right:9.00px"><span>61 kW</span></div>
<div class="d g" style="left:566.00px;top:405.70px;width:64.70px;height:12.90px;line-height:12.90px;padding-right:12.00px"><span>53 kW</span></div>
<div class="d g" style="left:631.90px;top:405.70px;width:65.30px;height:12.90px;line-height:12.90px;padding-right:12.00px"><span>61 kW</span></div>
</div></body></html>
